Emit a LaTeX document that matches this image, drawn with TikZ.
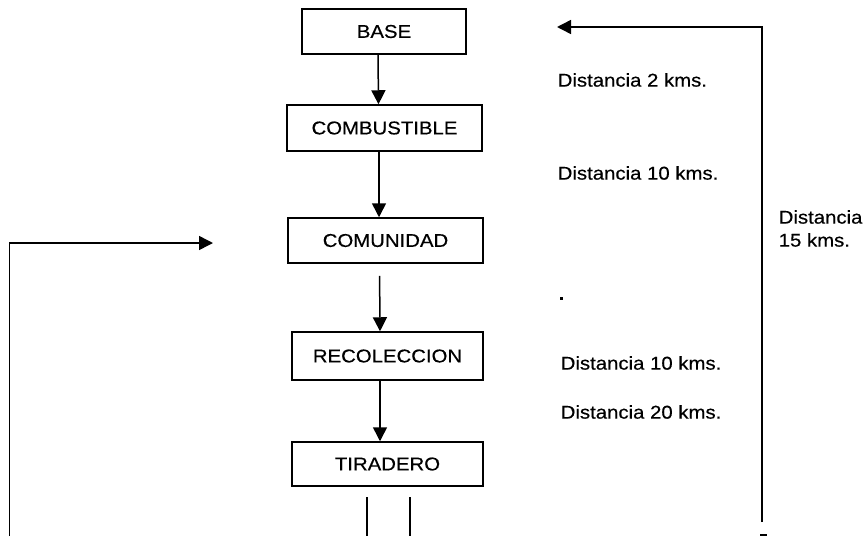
\documentclass[tikz,border=0pt]{standalone}
\usepackage{fontspec}
\setmainfont[FakeStretch=1.1,FakeBold=0.4]{Liberation Sans}
\usetikzlibrary{arrows.meta}
\begin{document}
\begin{tikzpicture}[x=1pt,y=-1pt,
  line width=1.5pt,
  every node/.style={font=\fontsize{18.5}{23}\selectfont, inner sep=0pt},
  stage/.style={draw, line width=1.5pt, rectangle},
  arr/.style={-{Triangle[length=14pt,width=14pt]}},
  note/.style={anchor=west}]
\useasboundingbox (0,0) rectangle (866,536);

% process boxes
\node[stage, minimum width=164pt, minimum height=45pt] (base) at (384,31.5) {BASE};
\node[stage, minimum width=195pt, minimum height=46pt] (comb) at (384.5,128) {COMBUSTIBLE};
\node[stage, minimum width=195pt, minimum height=45pt] (comu) at (385.5,240.5) {COMUNIDAD};
\node[stage, minimum width=191pt, minimum height=48pt] (reco) at (387.5,356) {RECOLECCION};
\node[stage, minimum width=191pt, minimum height=44pt] (tira) at (387.5,464) {TIRADERO};

% flow arrows
\draw[arr] ([xshift=-6pt]base.south) -- ([xshift=-6pt]comb.north);
\draw[arr] ([xshift=-5.5pt]comb.south) -- ([xshift=-6.5pt]comu.north);
\draw[arr, shorten <=12pt] ([xshift=-6pt]comu.south) -- ([xshift=-7.5pt]reco.north);
\draw[arr] ([xshift=-7.5pt]reco.south) -- ([xshift=-7.5pt]tira.north);

% outlet lines under the dump
\coordinate (o1a) at (367,497); \coordinate (o1b) at (367,536);
\coordinate (o2a) at (410,497); \coordinate (o2b) at (410,536);
\draw (o1a) -- (o1b);
\draw (o2a) -- (o2b);

% return loops
\coordinate (lstart) at (9.5,536);
\coordinate (lend) at (213,243);
\draw[arr] (lstart) |- (lend);
\coordinate (rstart) at (762,522);
\coordinate (rend) at (557,27);
\draw[arr] (rstart) |- (rend);

% distance labels
\node[note] (d1) at (557,80) {Distancia 2 kms.};
\node[note] (d2) at (557,173) {Distancia 10 kms.};
\node[note, align=left] (d3) at (778,228.5) {Distancia\\15 kms.};
\node[note] (d4) at (560,363) {Distancia 10 kms.};
\node[note] (d5) at (560,412) {Distancia 20 kms.};

% small marks
\fill (560,297) rectangle (563,299.5);
\fill (760,534) rectangle (767,536);
\end{tikzpicture}
\end{document}
